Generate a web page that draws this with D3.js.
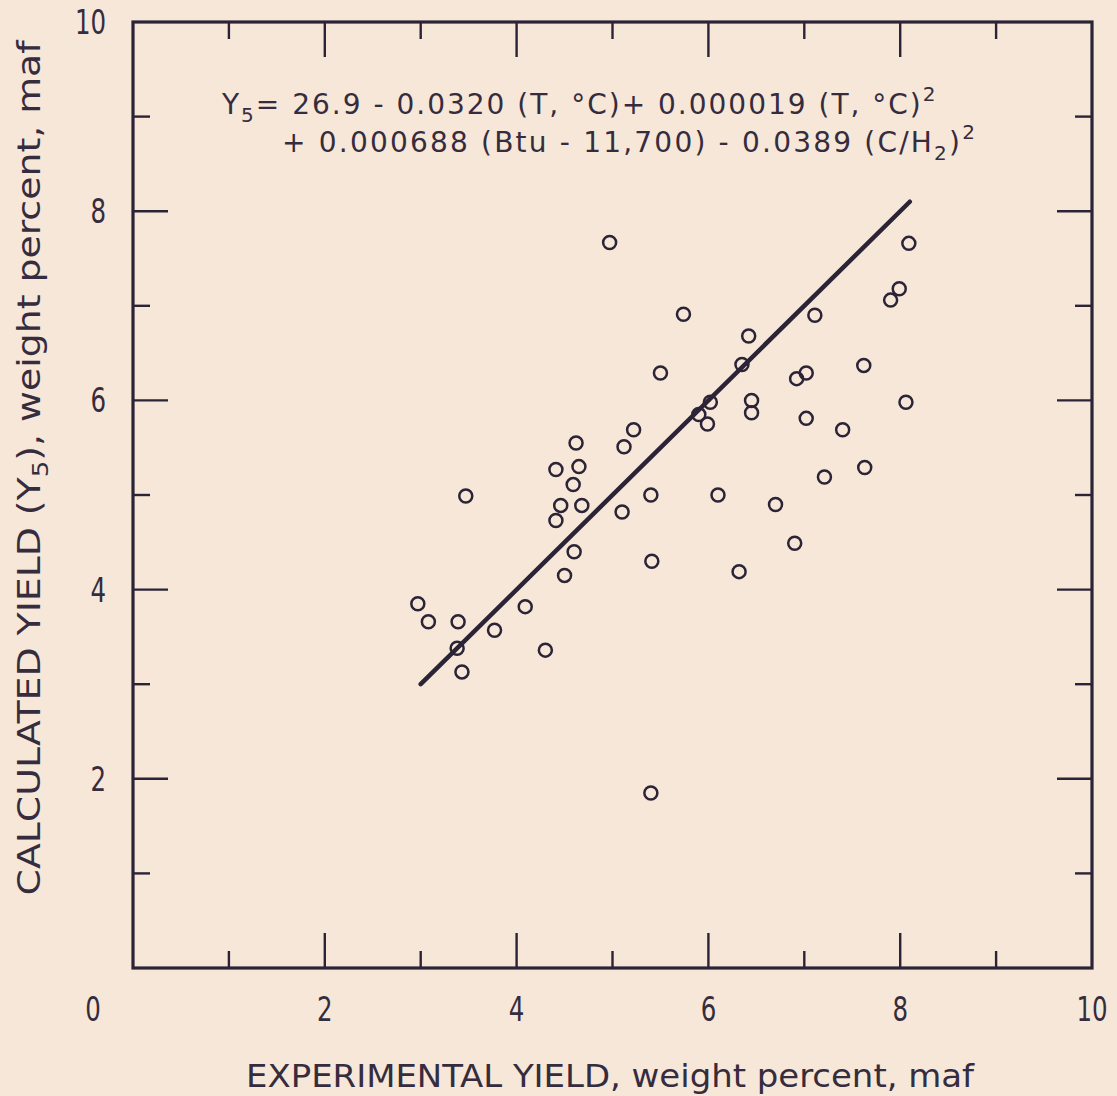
<!DOCTYPE html>
<html>
<head>
<meta charset="utf-8">
<script src="https://d3js.org/d3.v7.min.js"></script>
<style>
body { margin: 0; background: #f7e7d8; }
svg { display: block; }
text { font-family: 'DejaVu Sans', sans-serif; fill: #352c3e; }
.cond { font-family: 'DejaVu Sans Condensed', 'Liberation Sans Narrow', 'DejaVu Sans', sans-serif; }
</style>
</head>
<body>
<svg></svg>
<script>
var width = 1117, height = 1096;
var ink = "#2b2336";

// experimental yield (x) and calculated yield Y5 (y), weight percent maf
var expYield = [2.97, 3.08, 3.39, 3.38, 3.43, 3.47, 3.77, 4.09, 4.30, 4.41,
  4.41, 4.46, 4.50, 4.60, 4.59, 4.62, 4.65, 4.68, 4.97, 5.10,
  5.12, 5.22, 5.40, 5.41, 5.40, 5.50, 5.74, 5.90, 5.99, 6.02,
  6.10, 6.32, 6.35, 6.42, 6.45, 6.45, 6.70, 6.90, 6.92, 7.02,
  7.02, 7.11, 7.21, 7.40, 7.62, 7.63, 7.90, 7.99, 8.06, 8.09];
var calcYield = [3.85, 3.66, 3.66, 3.38, 3.13, 4.99, 3.57, 3.82, 3.36, 5.27,
  4.73, 4.89, 4.15, 4.40, 5.11, 5.55, 5.30, 4.89, 7.67, 4.82,
  5.51, 5.69, 5.00, 4.30, 1.85, 6.29, 6.91, 5.85, 5.75, 5.98,
  5.00, 4.19, 6.38, 6.68, 6.00, 5.87, 4.90, 4.49, 6.23, 6.29,
  5.81, 6.90, 5.19, 5.69, 6.37, 5.29, 7.06, 7.18, 5.98, 7.66];

// fitted line Y5 = experimental
var fitLine = [[3.0, 3.0], [8.1, 8.1]];

var majorTicks = [2, 4, 6, 8];
var minorTicks = [1, 3, 5, 7, 9];
var xTickLabels = ["0", "2", "4", "6", "8", "10"];
var yTickLabels = ["2", "4", "6", "8", "10"];

var svg = d3.select("svg").attr("width", width).attr("height", height);

var x = d3.scaleLinear().domain([0, 10]).range([133, 1092]);
var y = d3.scaleLinear().domain([0, 10]).range([968, 22]);

// frame
svg.append("rect")
  .attr("x", x(0)).attr("y", y(10))
  .attr("width", x(10) - x(0)).attr("height", y(0) - y(10))
  .attr("fill", "none").attr("stroke", ink).attr("stroke-width", 3.2);

var ticks = majorTicks.map(function (v) { return { v: v, len: 35 }; })
  .concat(minorTicks.map(function (v) { return { v: v, len: 17 }; }));

var tg = svg.append("g").attr("stroke", ink).attr("stroke-width", 2.4);
ticks.forEach(function (t) {
  // bottom and top
  tg.append("line").attr("x1", x(t.v)).attr("x2", x(t.v)).attr("y1", y(0)).attr("y2", y(0) - t.len);
  tg.append("line").attr("x1", x(t.v)).attr("x2", x(t.v)).attr("y1", y(10)).attr("y2", y(10) + t.len);
  // left and right
  tg.append("line").attr("y1", y(t.v)).attr("y2", y(t.v)).attr("x1", x(0)).attr("x2", x(0) + t.len);
  tg.append("line").attr("y1", y(t.v)).attr("y2", y(t.v)).attr("x1", x(10)).attr("x2", x(10) - t.len);
});

// tick labels, drawn a bit narrow like the lettering guide
svg.selectAll(".xl").data(xTickLabels).enter().append("text")
  .attr("class", "xl cond")
  .attr("transform", function (d) {
    return "translate(" + (d == "0" ? 93 : x(+d)) + ",1021) scale(0.8,1)";
  })
  .attr("text-anchor", "middle")
  .style("font-size", "34px")
  .text(function (d) { return d; });

svg.selectAll(".yl").data(yTickLabels).enter().append("text")
  .attr("class", "yl cond")
  .attr("transform", function (d) {
    return "translate(106," + (y(+d) + 12) + ") scale(0.8,1)";
  })
  .attr("text-anchor", "end")
  .style("font-size", "34px")
  .text(function (d) { return d; });

// axis titles
svg.append("text")
  .attr("class", "cond")
  .attr("x", 610).attr("y", 1087)
  .attr("text-anchor", "middle")
  .attr("textLength", 728)
  .attr("lengthAdjust", "spacingAndGlyphs")
  .style("font-size", "32px")
  .text("EXPERIMENTAL YIELD, weight percent, maf");

var yt = svg.append("text")
  .attr("class", "cond")
  .attr("transform", "translate(40," + 468 + ") rotate(-90)")
  .attr("text-anchor", "middle")
  .attr("textLength", 855)
  .attr("lengthAdjust", "spacingAndGlyphs")
  .style("font-size", "32px");
yt.append("tspan").text("CALCULATED YIELD (Y");
yt.append("tspan").attr("dy", 8).style("font-size", "22px").text("5");
yt.append("tspan").attr("dy", -8).text("), weight percent, maf");

// equation
var eq1 = svg.append("text").attr("x", 222).attr("y", 114)
  .style("font-size", "28px").style("letter-spacing", "2.0px");
eq1.append("tspan").text("Y");
eq1.append("tspan").attr("dy", 8).style("font-size", "20px").text("5");
eq1.append("tspan").attr("dy", -8).text("= 26.9 - 0.0320 (T, °C)+ 0.000019 (T, °C)");
eq1.append("tspan").attr("dy", -13).style("font-size", "20px").text("2");

var eq2 = svg.append("text").attr("x", 282).attr("y", 152)
  .style("font-size", "28px").style("letter-spacing", "2.2px");
eq2.append("tspan").text("+ 0.000688 (Btu - 11,700) - 0.0389 (C/H");
eq2.append("tspan").attr("dy", 8).style("font-size", "20px").text("2");
eq2.append("tspan").attr("dy", -8).text(")");
eq2.append("tspan").attr("dy", -13).style("font-size", "20px").text("2");

// fitted line
svg.append("path")
  .datum(fitLine)
  .attr("d", d3.line().x(function (d) { return x(d[0]); }).y(function (d) { return y(d[1]); }))
  .attr("stroke", ink).attr("stroke-width", 4.5).attr("stroke-linecap", "round").attr("fill", "none");

// points
svg.selectAll("circle").data(expYield).enter().append("circle")
  .attr("cx", function (d) { return x(d); })
  .attr("cy", function (d, i) { return y(calcYield[i]); })
  .attr("r", 6.5)
  .attr("fill", "none")
  .attr("stroke", ink)
  .attr("stroke-width", 2.5);
</script>
</body>
</html>
